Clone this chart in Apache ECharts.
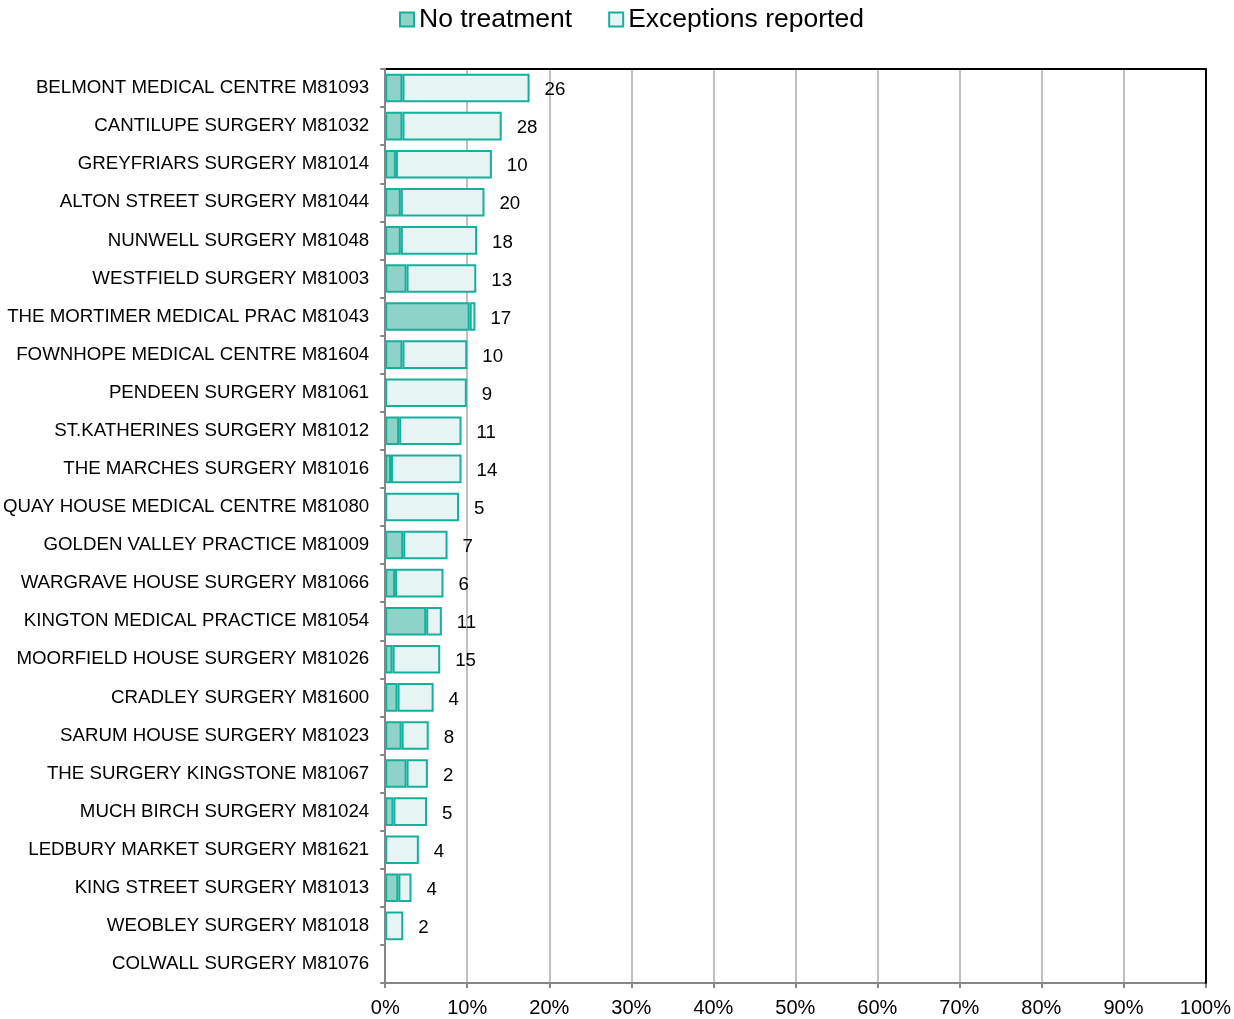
<!DOCTYPE html>
<html>
<head>
<meta charset="utf-8">
<script src="https://cdn.jsdelivr.net/npm/echarts@6/dist/echarts.min.js"></script>
<style>html,body{margin:0;padding:0;background:#fff;}#c{width:1234px;height:1019px;}</style>
</head>
<body>
<div id="c"></div>
<script>
const categories = [
  "BELMONT MEDICAL CENTRE M81093",
  "CANTILUPE SURGERY M81032",
  "GREYFRIARS SURGERY M81014",
  "ALTON STREET SURGERY M81044",
  "NUNWELL SURGERY M81048",
  "WESTFIELD SURGERY M81003",
  "THE MORTIMER MEDICAL PRAC M81043",
  "FOWNHOPE MEDICAL CENTRE M81604",
  "PENDEEN SURGERY M81061",
  "ST.KATHERINES SURGERY M81012",
  "THE MARCHES SURGERY M81016",
  "QUAY HOUSE MEDICAL CENTRE M81080",
  "GOLDEN VALLEY PRACTICE M81009",
  "WARGRAVE HOUSE SURGERY M81066",
  "KINGTON MEDICAL PRACTICE M81054",
  "MOORFIELD HOUSE SURGERY M81026",
  "CRADLEY SURGERY M81600",
  "SARUM HOUSE SURGERY M81023",
  "THE SURGERY KINGSTONE M81067",
  "MUCH BIRCH SURGERY M81024",
  "LEDBURY MARKET SURGERY M81621",
  "KING STREET SURGERY M81013",
  "WEOBLEY SURGERY M81018",
  "COLWALL SURGERY M81076"
];
// percentages
const noTreatment = [2.1, 2.1, 1.3, 1.9, 1.9, 2.6, 10.3, 2.1, 0, 1.7, 0.7, 0, 2.2, 1.2, 5.0, 0.9, 1.5, 2.0, 2.6, 1.0, 0, 1.6, 0, 0];
const exceptions = [15.5, 12.1, 11.7, 10.2, 9.3, 8.5, 0.7, 7.9, 9.95, 7.6, 8.6, 9.0, 5.4, 5.9, 1.9, 5.8, 4.4, 3.3, 2.6, 4.1, 4.1, 1.6, 2.2, 0];
const counts = [26, 28, 10, 20, 18, 13, 17, 10, 9, 11, 14, 5, 7, 6, 11, 15, 4, 8, 2, 5, 4, 4, 2, ""];
const xTicks = [0, 10, 20, 30, 40, 50, 60, 70, 80, 90, 100];

const hideZero = arr => arr.map(v => (v === 0 ? '-' : v));

const chart = echarts.init(document.getElementById('c'));
const FONT = '"Liberation Sans", Arial, sans-serif';
chart.setOption({
  animation: false,
  textStyle: { fontFamily: FONT },
  legend: {
    top: 1,
    left: 394,
    itemWidth: 14,
    itemHeight: 14,
    itemGap: 36,
    icon: 'rect',
    textStyle: { fontSize: 26.5, color: '#000', fontFamily: FONT },
    data: ['No treatment', 'Exceptions reported']
  },
  grid: { left: 384, right: 24, top: 69, bottom: 36, containLabel: false },
  xAxis: [{
    type: 'value',
    min: xTicks[0],
    max: xTicks[xTicks.length - 1],
    interval: 10,
    axisLine: { show: true, lineStyle: { color: '#868686', width: 2 } },
    axisTick: { show: true, length: 5, lineStyle: { color: '#868686', width: 2 } },
    axisLabel: { formatter: '{value}%', fontSize: 20, color: '#000', margin: 15, fontFamily: FONT },
    splitLine: { show: true, lineStyle: { color: '#c0c0c0', width: 2 } }
  }, {
    type: 'value', position: 'top', min: 0, max: 100,
    axisLine: { show: true, onZero: false, lineStyle: { color: '#000', width: 2 } },
    axisTick: { show: false }, axisLabel: { show: false }, splitLine: { show: false }
  }],
  yAxis: [{
    type: 'category',
    inverse: true,
    data: categories,
    axisLine: { show: true, lineStyle: { color: '#868686', width: 2 } },
    axisTick: { show: true, length: 5, lineStyle: { color: '#868686', width: 2 } },
    axisLabel: { fontSize: 18.7, color: '#000', margin: 16, fontFamily: FONT, padding: [8, 0, 0, 0] },
    z: 3
  }, {
    type: 'category', position: 'right', inverse: true, data: categories,
    axisLine: { show: true, onZero: false, lineStyle: { color: '#000', width: 2 } },
    axisTick: { show: false }, axisLabel: { show: false }, z: 3
  }],
  series: [{
    name: 'No treatment',
    type: 'bar',
    stack: 'a',
    barCategoryGap: '25%',
    data: hideZero(noTreatment),
    itemStyle: { color: '#8dd3c7', borderColor: '#14b09c', borderWidth: 2 }
  }, {
    name: 'Exceptions reported',
    type: 'bar',
    stack: 'a',
    barCategoryGap: '25%',
    data: hideZero(exceptions),
    itemStyle: { color: '#e6f5f3', borderColor: '#14b09c', borderWidth: 2 },
    label: {
      show: true,
      position: 'right',
      distance: 15,
      fontSize: 18.7,
      color: '#000',
      fontFamily: FONT,
      offset: [0, 2],
      formatter: p => String(counts[p.dataIndex])
    }
  }]
});
</script>
</body>
</html>
